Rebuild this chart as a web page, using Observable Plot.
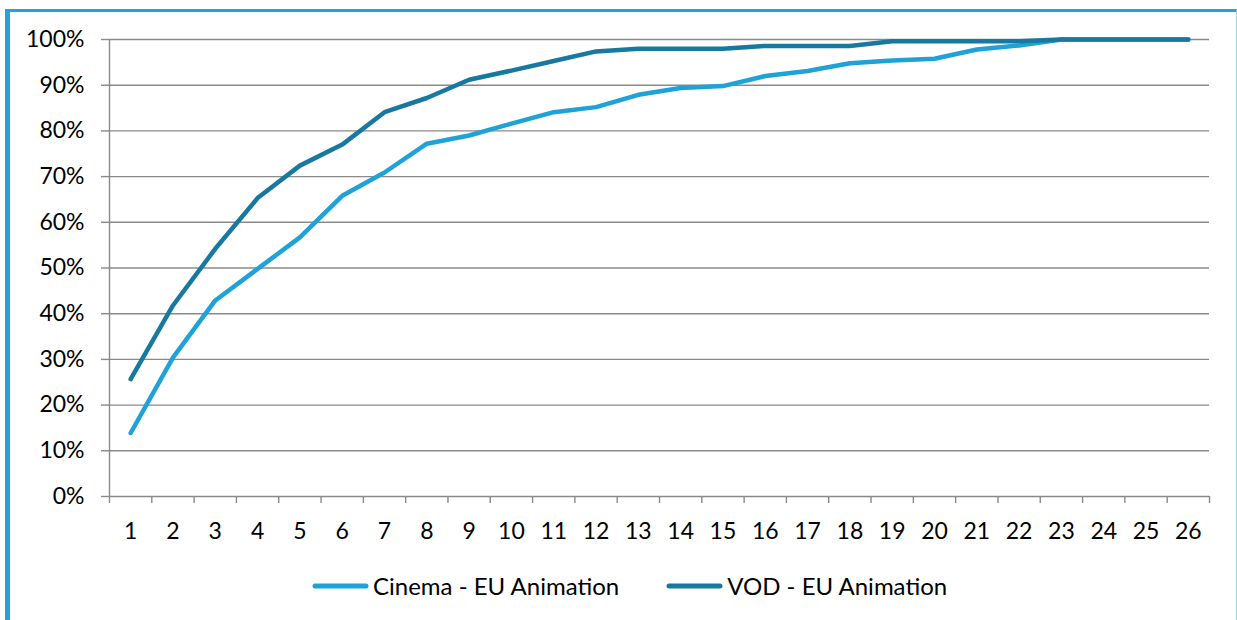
<!DOCTYPE html>
<html>
<head>
<meta charset="utf-8">
<script src="https://cdn.jsdelivr.net/npm/d3@7"></script>
<script src="https://cdn.jsdelivr.net/npm/@observablehq/plot@0.6"></script>
<style>
  html, body { margin: 0; padding: 0; background: #fff; width: 1237px; height: 620px; overflow: hidden; }
  #frame { position: absolute; left: 5px; top: 9px; width: 1226px; height: 700px;
           border-top: 3px solid #25A3D8; border-left: 5px solid #25A3D8; border-right: 1px solid #9ED6EE; }
  #chart { position: absolute; left: 0; top: 0; }
  #legend { position: absolute; left: 312px; top: 571px; display: flex; align-items: center;
            font-family: Lato, "Open Sans", sans-serif; font-size: 24px; color: #000; white-space: nowrap; }
  .item { display: flex; align-items: center; }
  .item + .item { margin-left: 47px; }
  .item svg { margin-right: 4px; }
</style>
</head>
<body>
<div id="frame"></div>
<div id="chart"></div>
<div id="legend"></div>
<script>
const categories = [1,2,3,4,5,6,7,8,9,10,11,12,13,14,15,16,17,18,19,20,21,22,23,24,25,26];
const seriesNames = ["Cinema - EU Animation", "VOD - EU Animation"];
const seriesColors = ["#1FA2D7", "#17799F"];
const cinema = [13.9, 30.4, 42.9, 49.8, 56.7, 65.8, 70.9, 77.2, 79.0, 81.6, 84.1, 85.2, 87.9, 89.4, 89.8, 92.0, 93.1, 94.8, 95.4, 95.8, 97.8, 98.7, 100, 100, 100, 100];
const vod = [25.7, 41.8, 54.2, 65.3, 72.4, 77.0, 84.1, 87.2, 91.2, 93.2, 95.3, 97.4, 98.0, 98.0, 98.0, 98.6, 98.6, 98.6, 99.6, 99.6, 99.6, 99.6, 100, 100, 100, 100];
const yTicks = [0,10,20,30,40,50,60,70,80,90,100];

const rows = categories.flatMap((c, i) => [
  {x: c, y: cinema[i], s: seriesNames[0]},
  {x: c, y: vod[i], s: seriesNames[1]}
]);
const boundaries = [...categories.map(c => c - 0.5), categories[categories.length - 1] + 0.5];
const xmin = boundaries[0], xmax = boundaries[boundaries.length - 1];
const gray = "#8A8A8A";

const chart = Plot.plot({
  width: 1237, height: 560,
  marginLeft: 109, marginRight: 28, marginTop: 39, marginBottom: 64,
  style: {fontFamily: "Lato, 'Open Sans', sans-serif", fontSize: "23px", color: "#000", background: "transparent"},
  x: {domain: [xmin, xmax]},
  y: {domain: [0, 100]},
  color: {domain: seriesNames, range: seriesColors},
  marks: [
    Plot.ruleY(yTicks, {x1: xmin, x2: xmax, stroke: gray, strokeWidth: 1.4}),
    Plot.ruleX([xmin], {y1: 0, y2: 100, stroke: gray, strokeWidth: 1.4}),
    Plot.axisY(yTicks, {tickSize: 8, tickPadding: 17, tickFormat: d => d + "%", stroke: gray, strokeWidth: 1.4, fill: "#000", label: null}),
    Plot.axisX(boundaries, {tickSize: 7, tickFormat: () => "", stroke: gray, strokeWidth: 1.4, label: null}),
    Plot.axisX(categories, {tickSize: 0, tickPadding: 26, tickFormat: d => String(d), fill: "#000", label: null}),
    Plot.line(rows, {x: "x", y: "y", z: "s", stroke: "s", strokeWidth: 4.5, strokeLinecap: "round", strokeLinejoin: "round"})
  ]
});
document.getElementById("chart").appendChild(chart);

const legend = document.getElementById("legend");
seriesNames.forEach((name, i) => {
  const item = document.createElement("div");
  item.className = "item";
  item.innerHTML = `<svg width="57" height="10"><line x1="3" y1="5" x2="54" y2="5" stroke="${seriesColors[i]}" stroke-width="5" stroke-linecap="round"/></svg><span>${name}</span>`;
  legend.appendChild(item);
});
</script>
</body>
</html>
